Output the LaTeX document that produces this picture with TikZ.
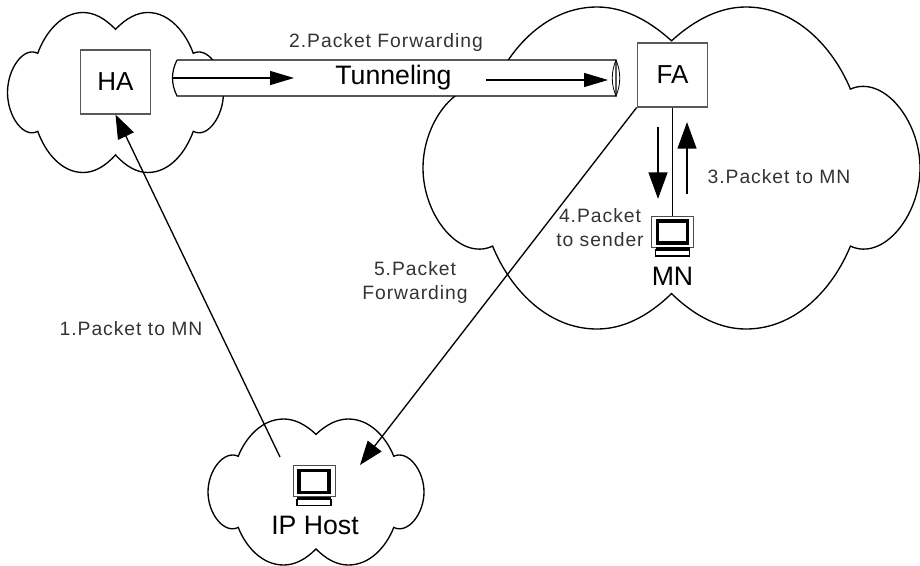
\documentclass[tikz,border=0pt]{standalone}
\usepackage[]{fontspec}
\setmainfont{Liberation Sans}
\newfontfamily\stepfont[LetterSpace=5]{Liberation Sans}
\usetikzlibrary{arrows.meta}
\tikzset{hop/.style = {line width=1pt, -{Triangle[length=18pt,width=13pt]}}}
\tikzset{flow/.style = {line width=1pt, -{Triangle[length=18pt,width=10.5pt]}}}
\tikzset{local/.style = {line width=1.8pt, -{Triangle[length=20pt,width=14pt]}}}
\tikzset{bigtext/.style = {inner sep=0, font=\fontsize{20}{22}\selectfont}}
\tikzset{agent/.style = {draw=black!65, fill=white, line width=0.8pt, minimum width=53pt, minimum height=48pt, inner sep=0, font=\fontsize{19.5}{22}\selectfont}}
\tikzset{caption/.style = {text=black!80, align=center, inner sep=0, font=\stepfont\fontsize{14.5}{18}\selectfont}}
\tikzset{pcbox/.style = {inner sep=0, minimum width=31.5pt, minimum height=24pt}}
\tikzset{netcloud/.pic = {
    \draw [line width=1pt] (0,-.79) .. controls (.1,-.93) and (.2,-1) .. (.3,-1)
        .. controls (.5,-1) and (.65,-.75) .. (.72,-.49)
        .. controls (.85,-.58) and (1,-.3) .. (1,0)
        .. controls (1,.3) and (.85,.58) .. (.72,.485)
        .. controls (.65,.75) and (.5,1) .. (.3,1)
        .. controls (.2,1) and (.1,.93) .. (0,.78)
        .. controls (-.1,.93) and (-.2,1) .. (-.3,1)
        .. controls (-.5,1) and (-.65,.75) .. (-.72,.485)
        .. controls (-.85,.58) and (-1,.3) .. (-1,0)
        .. controls (-1,-.3) and (-.85,-.58) .. (-.72,-.49)
        .. controls (-.65,-.75) and (-.5,-1) .. (-.3,-1)
        .. controls (-.2,-1) and (-.1,-.93) .. (0,-.79) -- cycle;
}}
\tikzset{pcicon/.pic = {
    \draw [black!70, line width=0.7pt] (-21,-16) rectangle (21,15);
    \draw [line width=2.4pt] (-15,-11) rectangle (15,11);
    \fill (-17,15) rectangle (17,18);
    \draw [line width=1pt] (-17,18) rectangle (17,24);
}}

\begin{document}
\begin{tikzpicture}[x=0.75pt,y=-0.75pt]
        \useasboundingbox (0,0) rectangle (920,565);
        % the three networks
        \pic [xscale=108,yscale=80] at (115.5,92.5) {netcloud};
        \pic [xscale=248.5,yscale=161] at (671.5,168) {netcloud};
        \pic [xscale=108,yscale=73] at (316,492) {netcloud};
        % tunnel between the agents
        \filldraw [fill=white, line width=0.9pt] (177,60) -- (616,60) -- (616,96) -- (177,96)
            .. controls (171,84) and (171,72) .. (177,60);
        \draw [line width=0.6pt] (616,60) .. controls (611,72) and (611,84) .. (616,96)
            .. controls (621,84) and (621,72) .. (616,60);
        \node [agent] (HA) at (115.5,82) {HA};
        \node [agent] (FA) at (672.5,75) {FA};
        \node [pcbox] (mnpc) at (672.5,232) {};
        \pic at (mnpc) {pcicon};
        \node [pcbox] (hostpc) at (314,481.5) {};
        \pic at (hostpc) {pcicon};
        \node [bigtext] (mnlabel) at (672.5,276) {MN};
        \node [bigtext] (hostlabel) at (315,525) {IP Host};
        \node [bigtext] (tunnel) at (393.5,78) {Tunneling};
        % free ends of the arrows
        \coordinate (tunnelin) at (173,78);
        \coordinate (tunnelmid) at (294,78);
        \coordinate (tunnelback) at (486,80);
        \coordinate (tunnelout) at (608,80);
        \coordinate (hostout) at (280,457);
        \coordinate (hostin) at (360,465);
        \coordinate (downfrom) at (658,127);
        \coordinate (downto) at (658,199);
        \coordinate (upfrom) at (687,194);
        \coordinate (upto) at (687,122);
        \draw [flow] (tunnelin) -- (tunnelmid);
        \draw [flow] (tunnelback) -- (tunnelout);
        \draw [hop] (hostout) -- (HA.south);
        \draw [hop] (FA.south west) -- (hostin);
        \draw [line width=1pt] (FA.south) -- (mnpc.north);
        \draw [local] (downfrom) -- (downto);
        \draw [local] (upfrom) -- (upto);
        % labels
        \node [caption] (step1) at (131,329) {1.Packet to MN};
        \node [caption] (step2) at (386,42) {2.Packet Forwarding};
        \node [caption] (step3) at (779,177) {3.Packet to MN};
        \node [caption] (step4) at (600,228) {4.Packet\\to sender};
        \node [caption] (step5) at (415,282) {5.Packet\\Forwarding};
    \end{tikzpicture}
\end{document}
